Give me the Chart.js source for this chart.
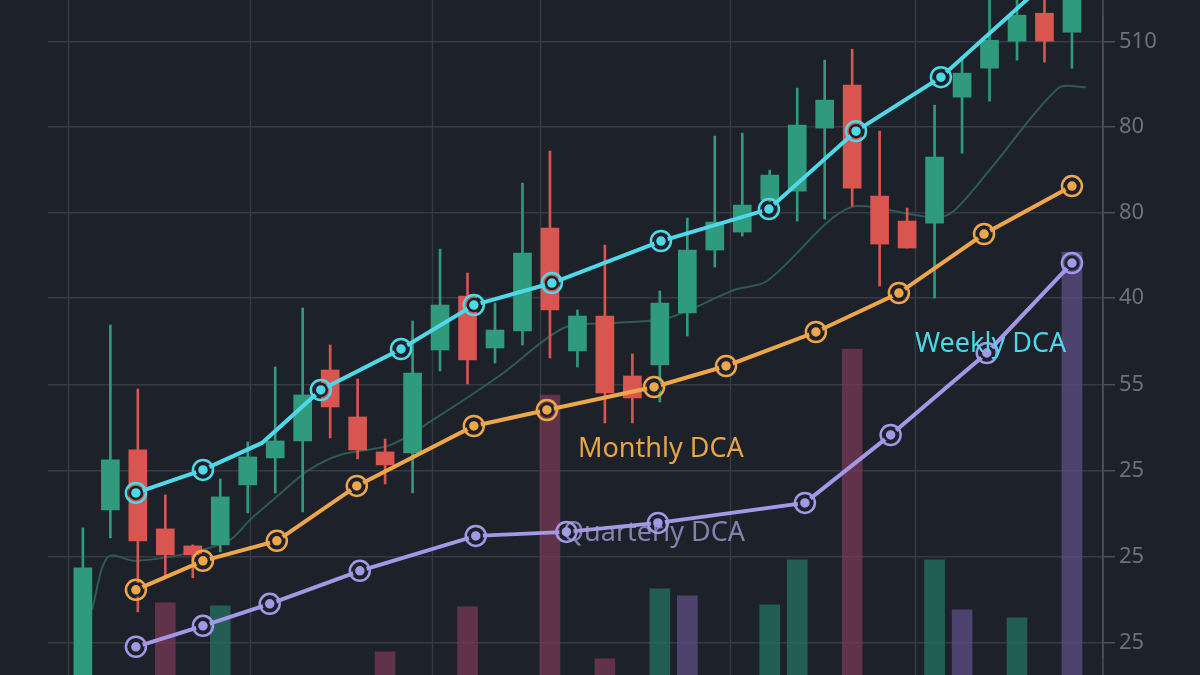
<!DOCTYPE html>
<html><head><meta charset="utf-8">
<script src="https://cdn.jsdelivr.net/npm/chart.js@4.4.1/dist/chart.umd.min.js"></script>
<style>html,body{margin:0;padding:0;background:#1d212a;}canvas{display:block;}</style>
</head><body>
<canvas id="c" width="1200" height="675"></canvas>
<script>
// Candles (index 0..36)
const candleOpen  = [-0.5,16.5,22.5,14.6,12.9,13,19,21.7,23.4,30.5,25.8,22.3,22.2,32.5,37.9,32.7,34.4,44.7,32.4,35.9,29.9,31,36.2,42.5,44.3,47.5,48.4,54.7,59,47.9,45.4,45.2,57.8,60.7,63.4,66.2,64.3];
const candleClose = [10.7,21.5,13.4,12,12,17.8,21.8,23.4,28,26.8,22.5,21,30.2,37,31.5,34.5,42.2,36.5,35.9,28.2,27.7,37.2,42.5,45.3,47,50,55,57.5,48.7,43.1,42.7,51.8,60.2,63.5,66,63.4,68.5];
const candleHigh  = [14.7,35,28.6,18,13,19.6,23.3,30.8,36.7,33,29.6,23.6,35.4,42.6,40.2,37.2,49.2,52.4,36.5,43,32.1,38.4,45.7,53.9,54.2,50.5,58.7,61.5,62.6,54.4,46.7,57,61.8,68,68,68,69];
const candleLow   = [-1,13.7,6.3,9.7,9.7,12.3,16.2,18.2,16.3,23.7,21.6,19.1,18.2,30.4,29.1,31.2,33,31.7,30.8,25.2,25.2,27.3,33.9,40.8,43.9,46.5,45.4,45.6,46.9,38.9,42.7,37.7,52.2,57.4,61.5,61.3,60.7];
// Volume bars
const volIndex = [3,5,11,14,17,19,21,22,25,26,28,31,32,34,36];
const volValue = [7.2,6.9,2.3,6.8,28,1.6,8.6,7.9,7,11.5,32.6,11.5,6.5,5.7,42.3];
const volKind  = ['d','g','d','d','d','d','g','p','g','g','d','g','p','g','p'];
// Moving average
const maX = [0.33,0.91,1.93,3.9,5.35,6.08,7.17,8.23,9.36,11.2,12.74,15.2,17.5,19.3,21.3,23.7,24.9,27.2,28.2,30.8,31.6,33,35.5,36.5];
const maY = [6.5,11.8,11.4,12.2,13.5,15.5,18.1,20.5,22,23,25.5,30,34.7,35.2,35.7,38.5,39.4,45.5,46.9,45.8,46.2,50.5,58.7,58.8];
// DCA lines
const weeklyX = [1.93,4.37,6.52,8.66,11.58,14.23,17.07,21.04,24.97,28.14,31.23,34.66];
const weeklyY = [18.2,20.5,23.2,28.5,32.6,37,39.2,43.4,46.6,54.4,59.8,68.3];
const weeklyMark = [1,1,0,1,1,1,1,1,1,1,1,0];
const monthlyX = [1.93,4.37,7.06,9.97,14.23,16.89,20.79,23.41,26.68,29.7,32.8,36.0];
const monthlyY = [8.5,11.4,13.4,18.9,24.9,26.5,28.8,30.9,34.3,38.2,44.1,48.9];
const quarterlyX = [1.93,4.37,6.8,10.08,14.3,17.6,20.93,26.28,29.4,32.9,36.0];
const quarterlyY = [2.8,4.9,7.1,10.4,13.9,14.3,15.2,17.2,24,32.2,41.2];
// Axis
const yTickValues = [3.2,11.8,20.4,29.0,37.7,46.2,54.8,63.3];
const yTickLabels = ['25','25','25','55','40','80','80','510'];
const xGridValues = [-0.55,6.08,12.7,16.64,23.55,30.3];

const GREEN='#2f9a7c', RED='#d95650';
const pts=(xs,ys)=>xs.map((x,i)=>({x,y:ys[i]}));
const idx=candleOpen.map((_,i)=>i);
const cColors=idx.map(i=>candleClose[i]>=candleOpen[i]?GREEN:RED);
const volColors={d:'rgba(120,58,85,0.75)',g:'rgba(36,110,95,0.8)',p:'rgba(95,78,135,0.75)'};
const BG='#1d212a';

function dcaSets(xs,ys,color,mark){
  const data=pts(xs,ys);
  const r=mark?mark.map(m=>m?6:0):6;
  const rr=mark?mark.map(m=>m?10:0):10;
  return [
   {type:'line',data,borderColor:color,borderWidth:4,pointRadius:r,pointBackgroundColor:color,pointBorderColor:BG,pointBorderWidth:2.5,tension:0,order:1,clip:false},
   {type:'line',data,showLine:false,pointRadius:rr,pointBackgroundColor:'rgba(0,0,0,0)',pointBorderColor:color,pointBorderWidth:2.5,order:0,clip:false}
  ];
}

const labelsPlugin={id:'lbls',afterDatasetsDraw(ch){
  const c=ch.ctx;c.save();c.font='27px "Noto Sans", Roboto, sans-serif';c.textBaseline='middle';
  c.fillStyle='#4fd6e6';c.fillText('Weekly DCA',915,344);
  c.fillStyle='#e8a548';c.fillText('Monthly DCA',578,449);
  c.fillStyle='rgba(170,160,220,0.75)';c.fillText('Quarterly DCA',563,533);
  c.restore();
}};
const bgPlugin={id:'bg',beforeDraw(ch){const c=ch.ctx;c.save();c.fillStyle=BG;c.fillRect(0,0,ch.width,ch.height);c.restore();},
  beforeDatasetsDraw(ch){
    const c=ch.ctx,xs=ch.scales.x;c.save();c.lineWidth=1.5;c.strokeStyle='#353a45';
    xGridValues.forEach(v=>{const px=Math.round(xs.getPixelForValue(v))+0.5;c.beginPath();c.moveTo(px,0);c.lineTo(px,ch.height);c.stroke();});
    const ax=ch.chartArea.right;c.strokeStyle='#4a4f5b';c.beginPath();c.moveTo(ax,0);c.lineTo(ax,ch.height);c.stroke();
    c.restore();
  }};

new Chart(document.getElementById('c'),{
  type:'bar',
  data:{datasets:[
    {type:'bar',data:volIndex.map((x,i)=>({x,y:[-5,volValue[i]]})),backgroundColor:volIndex.map((_,i)=>volColors[volKind[i]]),barThickness:20,order:10,grouped:false,clip:false},
    {type:'line',data:pts(maX,maY),borderColor:'#2f5a53',borderWidth:2,pointRadius:0,tension:0.3,order:9,clip:false},
    {type:'bar',data:idx.map(i=>({x:i,y:[candleLow[i],candleHigh[i]]})),backgroundColor:cColors,barThickness:2,order:8,grouped:false,clip:false},
    {type:'bar',data:idx.map(i=>({x:i,y:[candleOpen[i],candleClose[i]]})),backgroundColor:cColors,barThickness:18,order:7,grouped:false,clip:false},
    ...dcaSets(quarterlyX,quarterlyY,'#a497e6'),
    ...dcaSets(monthlyX,monthlyY,'#eea64a'),
    ...dcaSets(weeklyX,weeklyY,'#4fd8e8',weeklyMark)
  ]},
  options:{
    responsive:false,animation:false,devicePixelRatio:1,
    layout:{padding:{left:48,top:0,bottom:0,right:0}},
    plugins:{legend:{display:false},tooltip:{enabled:false}},
    scales:{
      x:{type:'linear',min:-1.27,max:37.13,offset:false,display:true,
        afterBuildTicks(s){s.ticks=xGridValues.map(v=>({value:v}));},
        afterFit(s){s.height=0;},
        ticks:{display:false,padding:0},border:{display:false},
        grid:{display:false,offset:false}},
      y:{type:'linear',position:'right',min:1.7,max:65.8,
        afterBuildTicks(s){s.ticks=yTickValues.map(v=>({value:v}));},
        afterFit(s){s.width=97;},
        ticks:{callback:(v,i)=>yTickLabels[i],color:'#6c717d',font:{size:22,family:'"Noto Sans", Roboto, sans-serif'},padding:4},
        border:{display:true,color:'#4a4f5b',width:1.5},
        grid:{color:'#353a45',lineWidth:1.5,tickLength:12,tickColor:'#4a4f5b'}}
    }
  },
  plugins:[bgPlugin,labelsPlugin]
});
</script>
</body></html>
